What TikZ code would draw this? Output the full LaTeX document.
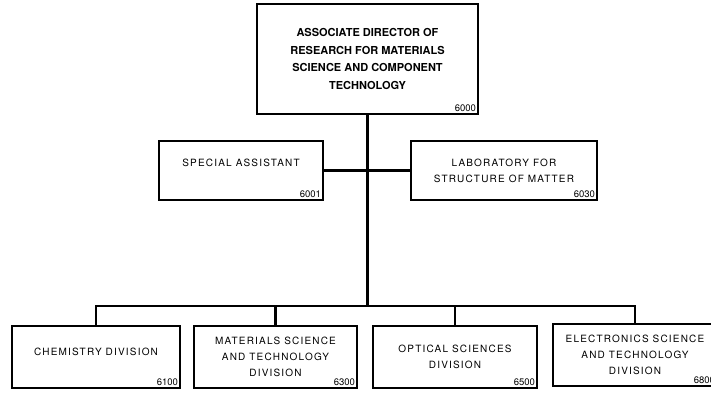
\documentclass[tikz,border=0pt]{standalone}
\usepackage{fontspec}
\setmainfont{TeX Gyre Heros}
\newfontfamily\orgfont[LetterSpace=12]{TeX Gyre Heros}
\usepackage{tikz}
\usetikzlibrary{positioning,calc}

\begin{document}
\begin{tikzpicture}[
        x=1pt, y=-1pt,
        unit/.style={rectangle, draw, line width=1.4pt, align=center, inner sep=2pt,
            font=\orgfont\fontsize{10}{16}\selectfont},
        head/.style={unit, font=\bfseries\fontsize{11}{17.5}\selectfont},
        num/.style={anchor=south east, inner sep=2.5pt, font=\fontsize{9.5}{10}\selectfont},
        link/.style={line width=2.2pt}
    ]
        \useasboundingbox (0,0) rectangle (711,393);

        % Associate director
        \node[head, minimum width=221pt, minimum height=110pt,
              label={[num]south east:6000}] (dir) at (367.5,59)
            {ASSOCIATE DIRECTOR OF\\RESEARCH FOR MATERIALS\\SCIENCE AND COMPONENT\\TECHNOLOGY};

        % Staff
        \node[unit, minimum width=164pt, minimum height=59pt,
              label={[num]south east:6001}] (sa) at (241,170.5)
            {SPECIAL ASSISTANT\\[0pt]};
        \node[unit, minimum width=186pt, minimum height=59pt,
              label={[num]south east:6030}] (lab) at (504,170.5)
            {LABORATORY FOR\\STRUCTURE OF MATTER};

        % Divisions
        \node[unit, minimum width=168pt, minimum height=62pt,
              label={[num]south east:6100}] (chem) at (96,357)
            {CHEMISTRY DIVISION\\[-6pt]};
        \node[unit, minimum width=163pt, minimum height=62pt,
              label={[num]south east:6300}] (mat) at (275.5,357)
            {MATERIALS SCIENCE\\AND TECHNOLOGY\\DIVISION};
        \node[unit, minimum width=164pt, minimum height=62pt,
              label={[num]south east:6500}] (opt) at (455,357)
            {OPTICAL SCIENCES\\DIVISION};
        \node[unit, minimum width=164pt, minimum height=62pt,
              label={[num]south east:6800}] (elec) at (635,355)
            {ELECTRONICS SCIENCE\\AND TECHNOLOGY\\DIVISION};

        % Connections
        \coordinate (bus) at (367.5,306);
        \draw[link] (dir) -- (bus);
        \draw[link] (sa) -- (lab);
        \draw[link] (chem.north) |- (bus) -| (elec.north);
        \draw[link] (mat.north) -- (mat.north |- bus);
        \draw[link] (opt.north) -- (opt.north |- bus);

    \end{tikzpicture}
\end{document}
